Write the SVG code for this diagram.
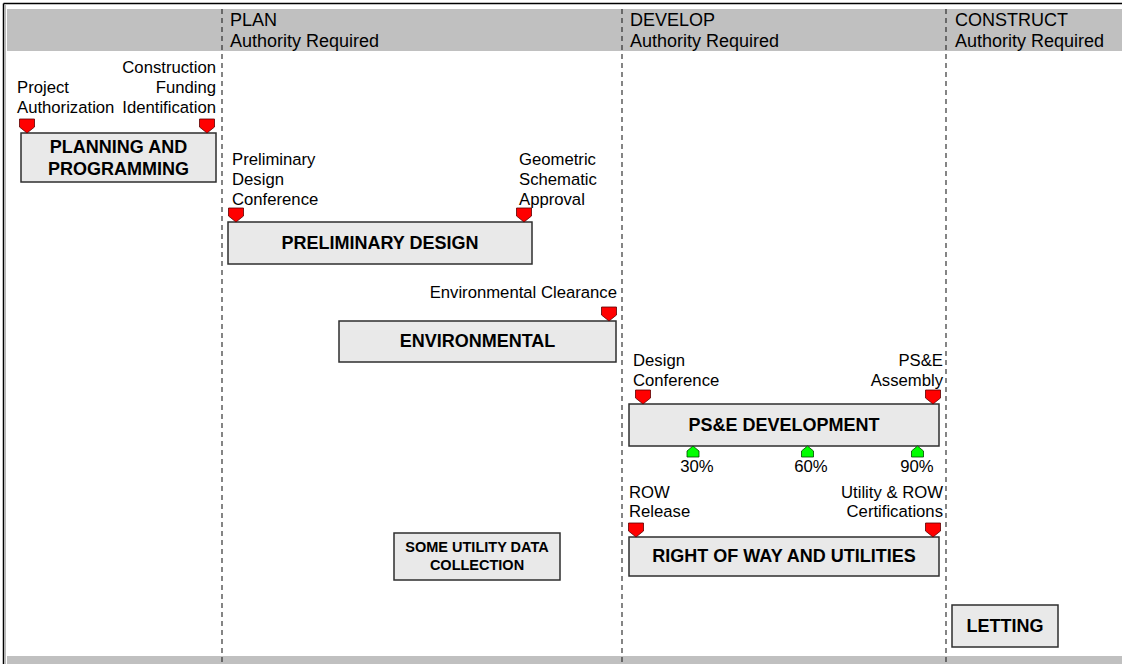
<svg xmlns="http://www.w3.org/2000/svg" xmlns:xlink="http://www.w3.org/1999/xlink" width="1122" height="664" viewBox="0 0 1122 664">
<style>
text{font-family:"Liberation Sans",Arial,sans-serif;fill:#000}
.hd{font-size:18px}
.ms{font-size:16.7px}
.bx{font-size:18px;font-weight:bold;text-anchor:middle}
.sm{font-size:14.5px;font-weight:bold;text-anchor:middle}
.r{text-anchor:end}
.c{text-anchor:middle}
.box{fill:#e9e9e9;stroke:#2e2e2e;stroke-width:1.5}
.dash{stroke:#222;stroke-width:1.1;stroke-dasharray:5,4;fill:none}
</style>
<defs>
<path id="redMk" d="M-7.5,0 H7.5 V8 L0,14 L-7.5,8 Z" fill="#ff0000" stroke="#5a0000" stroke-width="0.8"/>
<path id="grnMk" d="M0,0 L6,5 V11 H-6 V5 Z" fill="#00ff00" stroke="#004400" stroke-width="0.8"/>
</defs>
<rect x="0" y="0" width="1122" height="664" fill="#fff"/>
<g id="frame">
<rect x="7" y="9" width="1115" height="42" fill="#c0c0c0"/>
<rect x="7" y="656" width="1115" height="8" fill="#c0c0c0"/>
<line x1="3.5" y1="3.5" x2="1122" y2="3.5" stroke="#000" stroke-width="1.5"/>
<line x1="3.5" y1="3.5" x2="3.5" y2="664" stroke="#000" stroke-width="1.5"/>
<line x1="5.2" y1="5" x2="5.2" y2="664" stroke="#999" stroke-width="1"/>
</g>
<g id="phases">
<text class="hd" x="230" y="26">PLAN</text>
<text class="hd" x="230" y="47">Authority Required</text>
<text class="hd" x="630" y="26">DEVELOP</text>
<text class="hd" x="630" y="47">Authority Required</text>
<text class="hd" x="955" y="26">CONSTRUCT</text>
<text class="hd" x="955" y="47">Authority Required</text>
</g>
<g id="connectors">
<line class="dash" x1="222" y1="9" x2="222" y2="664"/>
<line class="dash" x1="622" y1="9" x2="622" y2="664"/>
<line class="dash" x1="946" y1="9" x2="946" y2="664"/>
</g>
<g id="planning">
<rect class="box" x="21" y="133" width="195" height="49"/>
<text class="bx" x="118.5" y="153">PLANNING AND</text>
<text class="bx" x="118.5" y="175">PROGRAMMING</text>
<text class="ms" x="17" y="93">Project</text>
<text class="ms" x="17" y="113">Authorization</text>
<text class="ms r" x="216" y="73">Construction</text>
<text class="ms r" x="216" y="93">Funding</text>
<text class="ms r" x="216" y="113">Identification</text>
<use xlink:href="#redMk" x="27" y="119"/>
<use xlink:href="#redMk" x="207" y="119"/>
</g>
<g id="preliminary">
<rect class="box" x="228" y="222" width="304" height="42"/>
<text class="bx" x="380" y="249">PRELIMINARY DESIGN</text>
<text class="ms" x="232" y="165">Preliminary</text>
<text class="ms" x="232" y="185">Design</text>
<text class="ms" x="232" y="205">Conference</text>
<text class="ms" x="519" y="165">Geometric</text>
<text class="ms" x="519" y="185">Schematic</text>
<text class="ms" x="519" y="205">Approval</text>
<use xlink:href="#redMk" x="236" y="208"/>
<use xlink:href="#redMk" x="524" y="208"/>
</g>
<g id="environmental">
<rect class="box" x="339" y="321" width="277" height="41"/>
<text class="bx" x="477.5" y="347">ENVIRONMENTAL</text>
<text class="ms r" x="617" y="298">Environmental Clearance</text>
<use xlink:href="#redMk" x="609" y="307"/>
</g>
<g id="pse">
<rect class="box" x="629" y="404" width="310" height="42"/>
<text class="bx" x="784" y="431">PS&amp;E DEVELOPMENT</text>
<text class="ms" x="633" y="366">Design</text>
<text class="ms" x="633" y="386">Conference</text>
<text class="ms r" x="943" y="366">PS&amp;E</text>
<text class="ms r" x="943" y="386">Assembly</text>
<use xlink:href="#redMk" x="643" y="390"/>
<use xlink:href="#redMk" x="933" y="390"/>
<use xlink:href="#grnMk" x="693" y="446"/>
<use xlink:href="#grnMk" x="807.5" y="446"/>
<use xlink:href="#grnMk" x="917.5" y="446"/>
<text class="ms c" x="697" y="472">30%</text>
<text class="ms c" x="811" y="472">60%</text>
<text class="ms c" x="917" y="472">90%</text>
</g>
<g id="row">
<rect class="box" x="629" y="537" width="310" height="39"/>
<text class="bx" x="784" y="562">RIGHT OF WAY AND UTILITIES</text>
<text class="ms" x="629" y="498">ROW</text>
<text class="ms" x="629" y="517">Release</text>
<text class="ms r" x="943" y="498">Utility &amp; ROW</text>
<text class="ms r" x="943" y="517">Certifications</text>
<use xlink:href="#redMk" x="636" y="523"/>
<use xlink:href="#redMk" x="933" y="523"/>
</g>
<g id="utility">
<rect class="box" x="394" y="533" width="166" height="47"/>
<text class="sm" x="477" y="552">SOME UTILITY DATA</text>
<text class="sm" x="477" y="570">COLLECTION</text>
</g>
<g id="letting">
<rect class="box" x="952" y="605" width="106" height="42"/>
<text class="bx" x="1005" y="632">LETTING</text>
</g>
</svg>
